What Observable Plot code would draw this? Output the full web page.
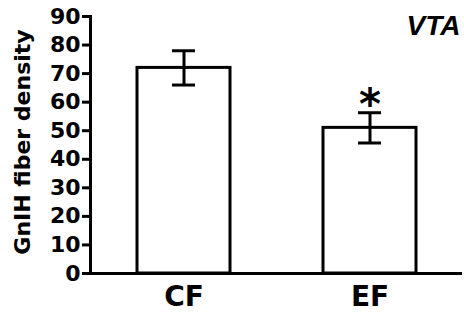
<!DOCTYPE html>
<html>
<head>
<meta charset="utf-8">
<script src="https://cdn.jsdelivr.net/npm/d3@7"></script>
<script src="https://cdn.jsdelivr.net/npm/@observablehq/plot@0.6"></script>
<style>
  html, body { margin: 0; padding: 0; background: white; }
  #chart svg { display: block; }
</style>
</head>
<body>
<div id="chart"></div>
<script>
const groups = ["CF", "EF"];
const means = [72, 51];
const sems = [6, 5.3];
const significant = [false, true];
const yTicks = [0, 10, 20, 30, 40, 50, 60, 70, 80, 90];
const yLabel = "GnIH fiber density";
const panelLabel = "VTA";
const sigMark = "*";

const data = groups.map((g, i) => ({group: g, value: means[i], se: sems[i], sig: significant[i]}));

const wide = "'DejaVu Sans', sans-serif";

const chart = Plot.plot({
  width: 464,
  height: 314,
  marginLeft: 90,
  marginRight: 2,
  marginTop: 16,
  marginBottom: 41,
  style: {fontFamily: wide, background: "white", color: "black"},
  x: {domain: groups, paddingInner: 0.5, paddingOuter: 0.25},
  y: {domain: [0, 90]},
  marks: [
    Plot.barY(data, {x: "group", y: "value", fill: "white", stroke: "black", strokeWidth: 3}),
    Plot.ruleX(data, {x: "group", y1: d => d.value - d.se, y2: d => d.value + d.se, strokeWidth: 3}),
    Plot.tickY(data, {x: "group", y: d => d.value + d.se, strokeWidth: 3, insetLeft: 35, insetRight: 35}),
    Plot.tickY(data, {x: "group", y: d => d.value - d.se, strokeWidth: 3, insetLeft: 35, insetRight: 35}),
    Plot.text(data.filter(d => d.sig), {x: "group", y: d => d.value + d.se, text: () => sigMark, fontSize: 42, fontWeight: "bold", dy: -7}),
    Plot.ruleY([0], {strokeWidth: 3}),
    Plot.frame({anchor: "left", strokeWidth: 3}),
    Plot.axisY({ticks: yTicks, tickSize: 8, tickPadding: 2, fontSize: 22, fontWeight: "bold", strokeWidth: 3, label: null}),
    Plot.axisX({tickSize: 0, tickPadding: 13, fontSize: 28, fontWeight: "bold", label: null}),
    Plot.text([yLabel], {text: d => d, frameAnchor: "left", textAnchor: "middle", rotate: -90, dx: -68, dy: -3, fontSize: 22, fontWeight: "bold"}),
    Plot.text([panelLabel], {text: d => d, frameAnchor: "top-right", textAnchor: "end", lineAnchor: "top", fontFamily: "'Liberation Sans', Arial, sans-serif", fontSize: 28, fontWeight: "bold", fontStyle: "italic", dx: -2, dy: -1})
  ]
});
document.getElementById("chart").appendChild(chart);
</script>
</body>
</html>
